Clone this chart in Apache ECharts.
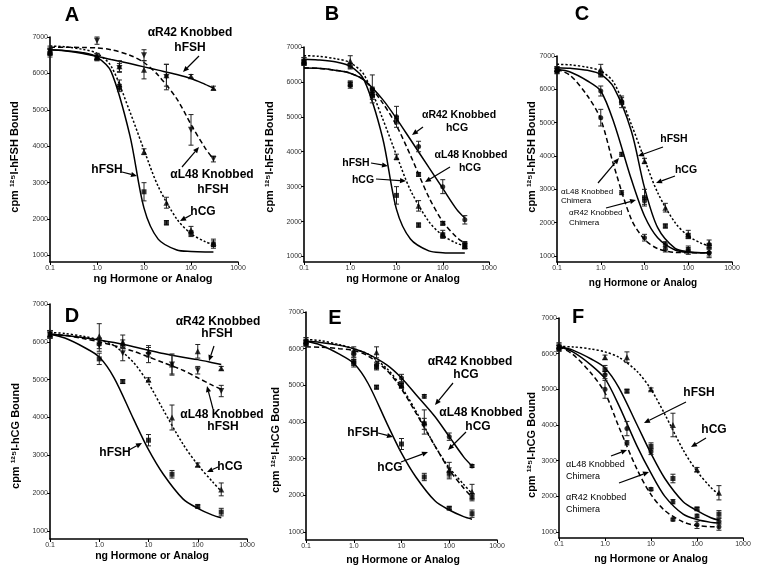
<!DOCTYPE html>
<html><head><meta charset="utf-8">
<script src="https://cdn.jsdelivr.net/npm/echarts@6/dist/echarts.min.js"></script>
<style>html,body{margin:0;padding:0;background:#fff}#c{width:759px;height:572px}</style>
</head><body><div id="c"></div>
<script>
// ---------- shared ----------
const doses = [0.1, 1, 3, 10, 30, 100, 300];
const curveX = [0.1, 0.2, 0.5, 1, 2, 5, 10, 20, 50, 100, 200, 300];
const xTickLabels = ['0.1', '1.0', '10', '100', '1000'];
const yTickValues = [1000, 2000, 3000, 4000, 5000, 6000, 7000];

// ---------- Panel A (125I-hFSH tracer) ----------
const A_hFSH_pts = [6550, 6450, 5600, 2750, 1900, 1600, 1300];
const A_hFSH_err = [100, 80, 100, 250, 60, 80, 100];
const A_hCG_pts = [6600, 6450, 5700, 3850, 2450, 1700, 1350];
const A_hCG_err = [100, 100, 120, 80, 150, 100, 100];
const A_R42_pts = [6650, 6450, 6200, 6100, 5950, 5920, 5600];
const A_R42_err = [100, 100, 150, 250, 300, 50, 50];
const A_L48_pts = [6600, 6900, 6150, 6500, 5900, 4450, 3650];
const A_L48_err = [80, 100, 120, 150, 350, 420, 80];
const A_hFSH_fit = [6650, 6630, 6570, 6450, 6050, 4300, 2300, 1450, 1150, 1110, 1100, 1100];
const A_hCG_fit = [6750, 6735, 6660, 6550, 6200, 4950, 3900, 2900, 2000, 1600, 1380, 1300];
const A_R42_fit = [6650, 6620, 6550, 6470, 6380, 6270, 6180, 6090, 5970, 5860, 5700, 5600];
const A_L48_fit = [6720, 6720, 6710, 6700, 6650, 6500, 6300, 5950, 5300, 4600, 3950, 3650];

// ---------- Panel B ----------
const B_hFSH_pts = [6600, 6450, 5600, 2750, 1900, 1600, 1300];
const B_hFSH_err = [100, 80, 100, 250, 60, 80, 80];
const B_hCG_pts = [6600, 6600, 5700, 3850, 2450, 1650, 1300];
const B_hCG_err = [100, 150, 100, 80, 150, 100, 80];
const B_R42_pts = [6550, 5900, 5800, 5000, 4150, 3000, 2050];
const B_R42_err = [80, 80, 400, 300, 150, 200, 120];
const B_L48_pts = [6550, 5950, 5750, 4900, 3350, 1950, 1350];
const B_L48_err = [80, 80, 100, 100, 50, 50, 80];
const B_hFSH_fit = [6650, 6630, 6570, 6450, 6050, 4400, 2350, 1500, 1160, 1110, 1100, 1100];
const B_hCG_fit = [6750, 6735, 6660, 6550, 6200, 4950, 3900, 2900, 2000, 1600, 1380, 1300];
const B_R42_fit = [6400, 6390, 6330, 6250, 6050, 5500, 4950, 4350, 3550, 2950, 2350, 2100];
const B_L48_fit = [6400, 6390, 6330, 6250, 6050, 5400, 4750, 3900, 2700, 2000, 1550, 1380];

// ---------- Panel C ----------
const C_hFSH_pts = [6600, 6450, 5600, 2750, 1900, 1600, 1300];
const C_hFSH_err = [80, 80, 150, 250, 60, 80, 80];
const C_hCG_pts = [6600, 6600, 5700, 3850, 2450, 1650, 1400];
const C_hCG_err = [80, 150, 100, 80, 130, 120, 80];
const C_R42_pts = [6550, 5950, 4050, 2650, 1350, 1200, 1100];
const C_R42_err = [80, 150, 60, 100, 80, 100, 150];
const C_L48_pts = [6550, 5150, 2900, 1550, 1200, 1150, 1100];
const C_L48_err = [80, 250, 60, 100, 80, 100, 100];
const C_hFSH_fit = [6650, 6630, 6570, 6450, 6050, 4750, 3050, 1850, 1230, 1130, 1100, 1100];
const C_hCG_fit = [6750, 6735, 6660, 6550, 6200, 4950, 3900, 2900, 2000, 1600, 1380, 1300];
const C_R42_fit = [6600, 6520, 6250, 5950, 5000, 3300, 2200, 1550, 1180, 1110, 1100, 1100];
const C_L48_fit = [6600, 6420, 5800, 5100, 3700, 2100, 1500, 1220, 1110, 1100, 1100, 1100];

// ---------- Panel D (125I-hCG tracer) ----------
const D_hFSH_pts = [6200, 5550, 4950, 3400, 2500, 1650, 1500];
const D_hFSH_err = [100, 150, 50, 150, 100, 40, 100];
const D_hCG_pts = [6200, 6000, 5950, 5000, 4000, 2750, 2100];
const D_hCG_err = [100, 100, 100, 50, 330, 50, 170];
const D_R42_pts = [6200, 6150, 6000, 5750, 5400, 5750, 5300];
const D_R42_err = [100, 330, 180, 150, 280, 180, 50];
const D_L48_pts = [6200, 5900, 5700, 5650, 5400, 5250, 4700];
const D_L48_err = [100, 150, 200, 200, 250, 100, 150];
const D_hFSH_fit = [6200, 6100, 5850, 5600, 5050, 3950, 3150, 2500, 1850, 1600, 1420, 1350];
const D_hCG_fit = [6250, 6220, 6140, 6050, 5900, 5450, 4900, 4200, 3300, 2750, 2300, 2050];
const D_R42_fit = [6200, 6170, 6110, 6050, 5980, 5870, 5780, 5690, 5590, 5530, 5450, 5400];
const D_L48_fit = [6200, 6170, 6080, 6000, 5900, 5750, 5600, 5450, 5250, 5050, 4850, 4750];

// ---------- Panel E ----------
const E_hFSH_pts = [6200, 5600, 4950, 3400, 2500, 1650, 1500];
const E_hFSH_err = [100, 100, 50, 150, 100, 40, 100];
const E_hCG_pts = [6200, 5950, 5900, 5000, 4000, 2700, 2100];
const E_hCG_err = [100, 100, 150, 50, 330, 200, 200];
const E_R42_pts = [6150, 5850, 5550, 5200, 4700, 3600, 2800];
const E_R42_err = [80, 80, 80, 100, 50, 100, 40];
const E_L48_pts = [6150, 5650, 5500, 5000, 3950, 2600, 1950];
const E_L48_err = [80, 100, 80, 80, 150, 150, 100];
const E_hFSH_fit = [6200, 6100, 5850, 5600, 5050, 3950, 3150, 2500, 1850, 1600, 1420, 1350];
const E_hCG_fit = [6250, 6220, 6110, 6000, 5850, 5450, 4950, 4300, 3350, 2750, 2300, 2050];
const E_R42_fit = [6200, 6170, 6090, 6000, 5850, 5550, 5200, 4750, 4150, 3600, 3050, 2800];
const E_L48_fit = [6050, 6040, 6000, 5950, 5800, 5400, 4900, 4250, 3350, 2700, 2200, 1950];

// ---------- Panel F ----------
const F_hFSH_pts = [6200, 5550, 4950, 3400, 2500, 1650, 1500];
const F_hFSH_err = [100, 120, 50, 100, 120, 40, 100];
const F_hCG_pts = [6200, 5900, 5900, 5000, 4000, 2750, 2100];
const F_hCG_err = [100, 60, 150, 40, 330, 60, 200];
const F_R42_pts = [6150, 5400, 3900, 3250, 1850, 1450, 1300];
const F_R42_err = [80, 100, 200, 80, 60, 50, 80];
const F_L48_pts = [6150, 5000, 3500, 2200, 1350, 1200, 1150];
const F_L48_err = [80, 250, 60, 40, 40, 100, 100];
const F_hFSH_fit = [6200, 6100, 5850, 5600, 5050, 4000, 3200, 2500, 1850, 1600, 1400, 1330];
const F_hCG_fit = [6200, 6190, 6130, 6050, 5900, 5500, 5000, 4300, 3300, 2700, 2250, 2050];
const F_R42_fit = [6200, 6050, 5680, 5300, 4550, 3400, 2650, 2000, 1500, 1350, 1270, 1250];
const F_L48_fit = [6200, 5980, 5450, 4900, 3950, 2750, 2050, 1600, 1280, 1180, 1150, 1140];

// ---------- layout ----------
const FONT = '"Liberation Sans", Arial, sans-serif';
const SOLID = 'solid', DASH = [5, 3], DOT = [2.2, 2];
const panels = [
  { grid: {left: 50, top: 37, width: 188, height: 225}, yMin: 822,
    curves: [[A_hFSH_fit, SOLID], [A_hCG_fit, DOT], [A_R42_fit, SOLID], [A_L48_fit, DASH]],
    marks: [[A_hFSH_pts, A_hFSH_err, 'rect', 0, 5], [A_hCG_pts, A_hCG_err, 'triangle', 0, 6],
            [A_R42_pts, A_R42_err, 'triangle', 0, 6], [A_L48_pts, A_L48_err, 'triangle', 180, 6]] },
  { grid: {left: 304, top: 47, width: 185, height: 215}, yMin: 842,
    curves: [[B_hFSH_fit, SOLID], [B_hCG_fit, DOT], [B_R42_fit, SOLID], [B_L48_fit, DASH]],
    marks: [[B_hFSH_pts, B_hFSH_err, 'rect', 0, 5], [B_hCG_pts, B_hCG_err, 'triangle', 0, 6],
            [B_R42_pts, B_R42_err, 'circle', 0, 5], [B_L48_pts, B_L48_err, 'rect', 0, 5]] },
  { grid: {left: 557, top: 56, width: 175, height: 206}, yMin: 820,
    curves: [[C_hFSH_fit, SOLID], [C_hCG_fit, DOT], [C_R42_fit, SOLID], [C_L48_fit, DASH]],
    marks: [[C_hFSH_pts, C_hFSH_err, 'rect', 0, 5], [C_hCG_pts, C_hCG_err, 'triangle', 0, 6],
            [C_R42_pts, C_R42_err, 'circle', 0, 5], [C_L48_pts, C_L48_err, 'circle', 0, 5]] },
  { grid: {left: 50, top: 304, width: 197, height: 235}, yMin: 789,
    curves: [[D_hFSH_fit, SOLID], [D_hCG_fit, DOT], [D_R42_fit, SOLID], [D_L48_fit, DASH]],
    marks: [[D_hFSH_pts, D_hFSH_err, 'rect', 0, 5], [D_hCG_pts, D_hCG_err, 'triangle', 0, 6],
            [D_R42_pts, D_R42_err, 'triangle', 0, 6], [D_L48_pts, D_L48_err, 'triangle', 180, 6]] },
  { grid: {left: 306, top: 312, width: 191, height: 228}, yMin: 782,
    curves: [[E_hFSH_fit, SOLID], [E_hCG_fit, DOT], [E_R42_fit, SOLID], [E_L48_fit, DASH]],
    marks: [[E_hFSH_pts, E_hFSH_err, 'rect', 0, 5], [E_hCG_pts, E_hCG_err, 'triangle', 0, 6],
            [E_R42_pts, E_R42_err, 'circle', 0, 5], [E_L48_pts, E_L48_err, 'rect', 0, 5]] },
  { grid: {left: 559, top: 318, width: 184, height: 220}, yMin: 832,
    curves: [[F_hFSH_fit, SOLID], [F_hCG_fit, DOT], [F_R42_fit, SOLID], [F_L48_fit, DASH]],
    marks: [[F_hFSH_pts, F_hFSH_err, 'rect', 0, 5], [F_hCG_pts, F_hCG_err, 'triangle', 0, 6],
            [F_R42_pts, F_R42_err, 'circle', 0, 5], [F_L48_pts, F_L48_err, 'circle', 0, 5]] }
];

const grids = [], xAxes = [], yAxes = [], series = [];
panels.forEach((p, i) => {
  grids.push(Object.assign({}, p.grid));
  xAxes.push({
    type: 'log', logBase: 10, gridIndex: i, min: 0.1, max: 1000,
    axisLine: {lineStyle: {color: '#000', width: 1.6}},
    axisTick: {length: 3, lineStyle: {color: '#000', width: 1}},
    splitLine: {show: false}, minorTick: {show: false},
    axisLabel: {fontSize: 7, color: '#333', fontFamily: FONT, margin: 3,
      formatter: v => xTickLabels[Math.round(Math.log10(v)) + 1]}
  });
  yAxes.push({
    type: 'value', gridIndex: i, min: p.yMin, max: 7000,
    axisLine: {show: true, lineStyle: {color: '#000', width: 1.6}},
    axisTick: {show: true, length: 3, customValues: yTickValues, lineStyle: {color: '#000', width: 1}},
    splitLine: {show: false},
    axisLabel: {fontSize: 7, color: '#333', fontFamily: FONT, margin: 2, customValues: yTickValues,
      formatter: v => String(Math.round(v))}
  });
  p.curves.forEach(([fit, type]) => {
    series.push({
      type: 'line', xAxisIndex: i, yAxisIndex: i, smooth: 0.3,
      showSymbol: false, silent: true, z: 3,
      lineStyle: {color: '#000', width: 1.5, type: type},
      data: curveX.map((x, k) => [x, fit[k]])
    });
  });
  p.marks.forEach(([pts, err, sym, rot, size]) => {
    series.push({
      type: 'custom', xAxisIndex: i, yAxisIndex: i, z: 4, silent: true,
      encode: {x: 0, y: [1, 2, 3]},
      data: doses.map((x, k) => [x, pts[k], pts[k] - err[k], pts[k] + err[k]]),
      renderItem: (params, api) => {
        const x = api.value(0);
        const lo = api.coord([x, api.value(2)]), hi = api.coord([x, api.value(3)]);
        const w = 2.5, st = {stroke: '#222', lineWidth: 1};
        return {type: 'group', children: [
          {type: 'line', shape: {x1: lo[0], y1: lo[1], x2: hi[0], y2: hi[1]}, style: st},
          {type: 'line', shape: {x1: lo[0] - w, y1: lo[1], x2: lo[0] + w, y2: lo[1]}, style: st},
          {type: 'line', shape: {x1: hi[0] - w, y1: hi[1], x2: hi[0] + w, y2: hi[1]}, style: st}
        ]};
      }
    });
    series.push({
      type: 'scatter', xAxisIndex: i, yAxisIndex: i, z: 5, silent: true,
      symbol: sym, symbolRotate: rot, symbolSize: size,
      itemStyle: {color: '#000'},
      data: doses.map((x, k) => [x, pts[k]])
    });
  });
});

// ---------- text & arrows ----------
const graphics = [];
function txt(s, x, y, size, weight, align, rot) {
  graphics.push({type: 'text', x: x, y: y, rotation: rot || 0, z: 100,
    style: {text: s, fontSize: size, fontWeight: weight, fontFamily: FONT, fill: '#000',
      textAlign: align || 'center', textVerticalAlign: 'middle', align: align || 'center', verticalAlign: 'middle'}});
}
function arrow(x1, y1, x2, y2) {
  const a = Math.atan2(y2 - y1, x2 - x1), L = 6, W = 2.6;
  const bx = x2 - L * Math.cos(a), by = y2 - L * Math.sin(a);
  graphics.push({type: 'line', z: 100, shape: {x1: x1, y1: y1, x2: bx, y2: by}, style: {stroke: '#000', lineWidth: 1.2}});
  graphics.push({type: 'polygon', z: 100, shape: {points: [[x2, y2],
    [bx + W * Math.sin(a), by - W * Math.cos(a)], [bx - W * Math.sin(a), by + W * Math.cos(a)]]}, style: {fill: '#000'}});
}
// panel letters
[['A', 72, 15], ['B', 332, 14], ['C', 582, 14], ['D', 72, 316], ['E', 335, 318], ['F', 578, 317]]
  .forEach(([s, x, y]) => txt(s, x, y, 20, 'bold'));
// axis titles
const yTitleHFSH = 'cpm \u00B9\u00B2\u2075I-hFSH Bound';
const yTitleHCG = 'cpm \u00B9\u00B2\u2075I-hCG Bound';
const xTitle = 'ng Hormone or Analog';
txt(yTitleHFSH, 15, 157, 11, 'bold', 'center', Math.PI / 2);
txt(yTitleHFSH, 270, 157, 11, 'bold', 'center', Math.PI / 2);
txt(yTitleHFSH, 532, 157, 11, 'bold', 'center', Math.PI / 2);
txt(yTitleHCG, 16, 436, 11, 'bold', 'center', Math.PI / 2);
txt(yTitleHCG, 276, 440, 11, 'bold', 'center', Math.PI / 2);
txt(yTitleHCG, 532, 445, 11, 'bold', 'center', Math.PI / 2);
txt(xTitle, 153, 279, 11, 'bold');
txt(xTitle, 403, 279, 10.5, 'bold');
txt(xTitle, 643, 283, 10, 'bold');
txt(xTitle, 152, 556, 10.5, 'bold');
txt(xTitle, 403, 560, 10.5, 'bold');
txt(xTitle, 651, 559, 10.5, 'bold');
// Panel A
txt('\u03B1R42 Knobbed', 190, 33, 12, 'bold'); txt('hFSH', 190, 48, 12, 'bold'); arrow(199, 56, 183, 72);
txt('\u03B1L48 Knobbed', 212, 175, 12, 'bold'); txt('hFSH', 213, 190, 12, 'bold'); arrow(182, 167, 199, 147);
txt('hFSH', 107, 170, 12, 'bold'); arrow(122, 172, 137, 176);
txt('hCG', 203, 212, 12, 'bold'); arrow(191, 215, 180, 221);
// Panel B
txt('\u03B1R42 Knobbed', 459, 115, 10.5, 'bold'); txt('hCG', 457, 128, 10.5, 'bold'); arrow(423, 127, 412, 135);
txt('\u03B1L48 Knobbed', 471, 155, 10.5, 'bold'); txt('hCG', 470, 168, 10.5, 'bold'); arrow(450, 167, 425, 182);
txt('hFSH', 356, 163, 10.5, 'bold'); arrow(371, 163, 388, 166);
txt('hCG', 363, 180, 10.5, 'bold'); arrow(376, 179, 406, 181);
// Panel C
txt('hFSH', 674, 139, 10.5, 'bold'); arrow(663, 147, 638, 156);
txt('hCG', 686, 170, 10.5, 'bold'); arrow(675, 176, 656, 183);
txt('\u03B1L48 Knobbed', 561, 192, 8, 'normal', 'left'); txt('Chimera', 561, 201, 8, 'normal', 'left'); arrow(598, 183, 619, 158);
txt('\u03B1R42 Knobbed', 569, 213, 8, 'normal', 'left'); txt('Chimera', 569, 223, 8, 'normal', 'left'); arrow(606, 208, 636, 200);
// Panel D
txt('\u03B1R42 Knobbed', 218, 322, 12, 'bold'); txt('hFSH', 217, 334, 12, 'bold'); arrow(214, 346, 209, 361);
txt('\u03B1L48 Knobbed', 222, 415, 12, 'bold'); txt('hFSH', 223, 427, 12, 'bold'); arrow(213, 409, 207, 386);
txt('hFSH', 115, 453, 12, 'bold'); arrow(129, 450, 142, 443);
txt('hCG', 230, 467, 12, 'bold'); arrow(218, 467, 207, 472);
// Panel E
txt('\u03B1R42 Knobbed', 470, 362, 12, 'bold'); txt('hCG', 466, 375, 12, 'bold'); arrow(453, 383, 435, 405);
txt('\u03B1L48 Knobbed', 481, 413, 12, 'bold'); txt('hCG', 478, 427, 12, 'bold'); arrow(466, 432, 448, 450);
txt('hFSH', 363, 433, 12, 'bold'); arrow(378, 433, 393, 437);
txt('hCG', 390, 468, 12, 'bold'); arrow(401, 462, 428, 452);
// Panel F
txt('hFSH', 699, 393, 12, 'bold'); arrow(686, 402, 644, 423);
txt('hCG', 714, 430, 12, 'bold'); arrow(706, 438, 691, 447);
txt('\u03B1L48 Knobbed', 566, 465, 9, 'normal', 'left'); txt('Chimera', 566, 477, 9, 'normal', 'left'); arrow(611, 456, 627, 450);
txt('\u03B1R42 Knobbed', 566, 498, 9, 'normal', 'left'); txt('Chimera', 566, 510, 9, 'normal', 'left'); arrow(619, 483, 649, 472);

const chart = echarts.init(document.getElementById('c'), null, {renderer: 'canvas'});
chart.setOption({
  animation: false, backgroundColor: '#fff',
  grid: grids, xAxis: xAxes, yAxis: yAxes, series: series, graphic: graphics
});
</script></body></html>
